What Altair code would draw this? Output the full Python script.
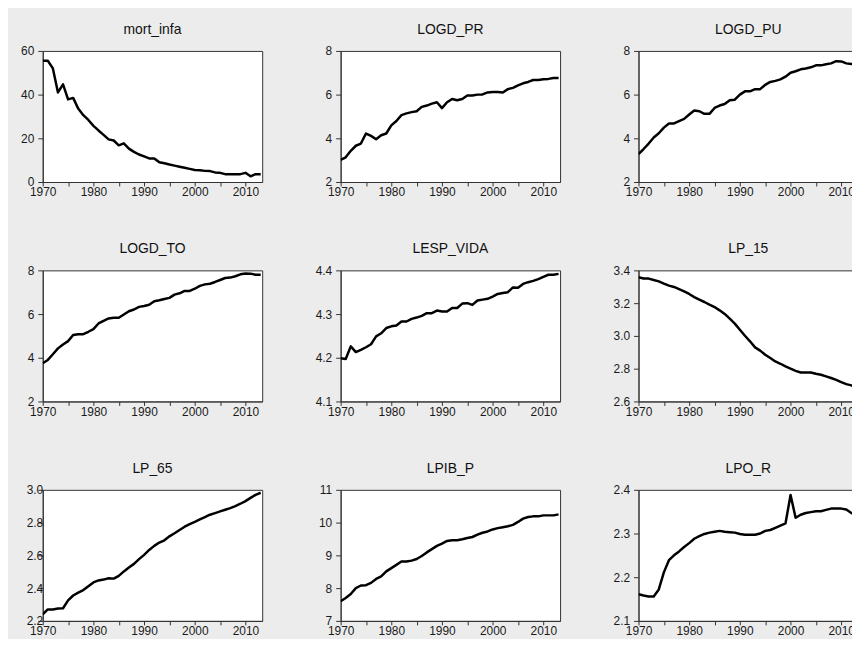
import altair as alt
import pandas as pd

years = list(range(1970, 2014))

mort_infa = [55.5, 55.5, 52.0, 41.0, 44.7, 37.8, 38.5, 33.6, 30.6, 28.4,
             25.7, 23.6, 21.6, 19.5, 19.0, 16.8, 17.7, 15.3, 13.8, 12.6,
             11.7, 10.8, 10.8, 9.0, 8.6, 8.0, 7.5, 7.0, 6.5, 6.0,
             5.5, 5.4, 5.1, 5.0, 4.4, 4.2, 3.6, 3.6, 3.6, 3.6,
             4.2, 2.6, 3.6, 3.6]

logd_pr = [3.01, 3.13, 3.43, 3.66, 3.76, 4.22, 4.11, 3.96, 4.14, 4.22,
           4.59, 4.79, 5.06, 5.14, 5.20, 5.24, 5.44, 5.50, 5.59, 5.65,
           5.38, 5.65, 5.80, 5.74, 5.80, 5.96, 5.96, 6.00, 6.01, 6.10,
           6.12, 6.12, 6.10, 6.25, 6.31, 6.42, 6.52, 6.58, 6.67, 6.67,
           6.70, 6.72, 6.76, 6.76]

logd_pu = [3.28, 3.51, 3.76, 4.04, 4.23, 4.49, 4.68, 4.68, 4.79, 4.89,
           5.09, 5.27, 5.24, 5.12, 5.12, 5.39, 5.50, 5.57, 5.74, 5.77,
           6.00, 6.15, 6.15, 6.25, 6.25, 6.45, 6.58, 6.63, 6.70, 6.82,
           7.00, 7.07, 7.16, 7.20, 7.25, 7.34, 7.34, 7.39, 7.43, 7.53,
           7.52, 7.43, 7.40, 7.38]

logd_to = [3.75, 3.90, 4.16, 4.43, 4.61, 4.76, 5.04, 5.08, 5.08, 5.19,
           5.31, 5.57, 5.69, 5.80, 5.83, 5.83, 5.98, 6.13, 6.21, 6.33,
           6.37, 6.43, 6.59, 6.63, 6.69, 6.74, 6.89, 6.95, 7.06, 7.06,
           7.16, 7.29, 7.36, 7.39, 7.47, 7.56, 7.65, 7.67, 7.73, 7.82,
           7.86, 7.85, 7.80, 7.80]

lesp_vida = [4.199, 4.197, 4.226, 4.213, 4.218, 4.224, 4.231, 4.249, 4.256, 4.268,
             4.272, 4.274, 4.283, 4.283, 4.289, 4.292, 4.296, 4.302, 4.302, 4.308,
             4.306, 4.306, 4.314, 4.314, 4.324, 4.325, 4.321, 4.331, 4.333, 4.335,
             4.340, 4.346, 4.348, 4.350, 4.361, 4.360, 4.369, 4.373, 4.376, 4.380,
             4.385, 4.390, 4.390, 4.392]

lp_15 = [3.358, 3.350, 3.350, 3.341, 3.333, 3.319, 3.307, 3.299, 3.286, 3.272,
         3.256, 3.237, 3.221, 3.207, 3.191, 3.176, 3.156, 3.134, 3.105, 3.075,
         3.038, 3.001, 2.967, 2.930, 2.910, 2.885, 2.865, 2.844, 2.830, 2.814,
         2.800, 2.787, 2.777, 2.777, 2.777, 2.769, 2.763, 2.753, 2.743, 2.732,
         2.718, 2.706, 2.698, 2.688]

lp_65 = [2.240, 2.270, 2.270, 2.275, 2.277, 2.325, 2.355, 2.372, 2.388, 2.412,
         2.435, 2.447, 2.452, 2.460, 2.458, 2.475, 2.502, 2.526, 2.548, 2.577,
         2.603, 2.633, 2.658, 2.678, 2.692, 2.716, 2.735, 2.755, 2.775, 2.791,
         2.805, 2.820, 2.834, 2.848, 2.858, 2.868, 2.878, 2.888, 2.901, 2.915,
         2.931, 2.951, 2.969, 2.982]

lpib_p = [7.60, 7.70, 7.82, 8.00, 8.08, 8.09, 8.16, 8.28, 8.36, 8.51,
          8.61, 8.71, 8.81, 8.81, 8.84, 8.89, 8.98, 9.09, 9.19, 9.29,
          9.36, 9.44, 9.46, 9.46, 9.49, 9.53, 9.56, 9.63, 9.69, 9.73,
          9.79, 9.83, 9.86, 9.89, 9.93, 10.02, 10.12, 10.17, 10.19, 10.19,
          10.22, 10.22, 10.22, 10.25]

lpo_r = [2.161, 2.158, 2.156, 2.156, 2.172, 2.211, 2.239, 2.250, 2.259, 2.269,
         2.278, 2.288, 2.294, 2.299, 2.302, 2.304, 2.306, 2.304, 2.303, 2.302,
         2.299, 2.297, 2.297, 2.297, 2.300, 2.306, 2.308, 2.313, 2.318, 2.323,
         2.388, 2.336, 2.343, 2.347, 2.349, 2.351, 2.351, 2.354, 2.357, 2.357,
         2.357, 2.355, 2.347, 2.340]

titles = ["mort_infa", "LOGD_PR", "LOGD_PU", "LOGD_TO", "LESP_VIDA",
          "LP_15", "LP_65", "LPIB_P", "LPO_R"]
series = [mort_infa, logd_pr, logd_pu, logd_to, lesp_vida,
          lp_15, lp_65, lpib_p, lpo_r]
y_domains = [[0, 60], [2, 8], [2, 8], [2, 8], [4.1, 4.4],
             [2.6, 3.4], [2.2, 3.0], [7, 11], [2.1, 2.4]]
y_ticks = [[0, 20, 40, 60], [2, 4, 6, 8], [2, 4, 6, 8], [2, 4, 6, 8],
           [4.1, 4.2, 4.3, 4.4], [2.6, 2.8, 3.0, 3.2, 3.4],
           [2.2, 2.4, 2.6, 2.8, 3.0], [7, 8, 9, 10, 11], [2.1, 2.2, 2.3, 2.4]]
y_formats = ["d", "d", "d", "d", ".1f", ".1f", ".1f", "d", ".1f"]

x_ticks = list(range(1970, 2011, 5))

FONT = "Liberation Sans"
W = 221
H = 132
X_END = 2013.3

charts = []
for name, vals, dom, yt, fmt in zip(titles, series, y_domains, y_ticks, y_formats):
    df = pd.DataFrame({"year": years, "value": vals})
    lpad = -5 if name == "LP_65" else 4
    c = (
        alt.Chart(df)
        .mark_line(color="black", strokeWidth=2.5, strokeJoin="round", clip=True)
        .encode(
            x=alt.X(
                "year:Q",
                scale=alt.Scale(domain=[1970, X_END], nice=False, zero=False),
                axis=alt.Axis(
                    values=x_ticks, format="d", title=None, grid=False,
                    labelExpr="datum.value % 10 === 0 ? datum.label : ''",
                    labelFlush=False, labelOverlap=False, tickSize=4, labelPadding=1,
                ),
            ),
            y=alt.Y(
                "value:Q",
                scale=alt.Scale(domain=dom, nice=False, zero=False),
                axis=alt.Axis(
                    values=yt, format=fmt, title=None, grid=False,
                    labelOverlap=False, tickSize=5, labelPadding=lpad,
                ),
            ),
        )
        .properties(
            width=W, height=H,
            title=alt.TitleParams(name, fontSize=14, font=FONT, fontWeight="normal",
                                  offset=8, color="#111111"),
        )
    )
    charts.append(c)

chart = (
    alt.concat(*charts, columns=3, spacing={"row": 89, "column": 79}, bounds="flush")
    .properties(background="#ececec",
                padding={"left": 12, "top": 12, "right": -7, "bottom": -1})
    .configure_view(stroke="#333333", strokeWidth=1, fill="white")
    .configure_axis(
        domainColor="#333333", tickColor="#333333", labelColor="#1a1a1a",
        labelFont=FONT, labelFontSize=12, domainWidth=1, tickWidth=1,
    )
)

chart.save("out.html", embed_options={"renderer": "svg", "actions": False})
